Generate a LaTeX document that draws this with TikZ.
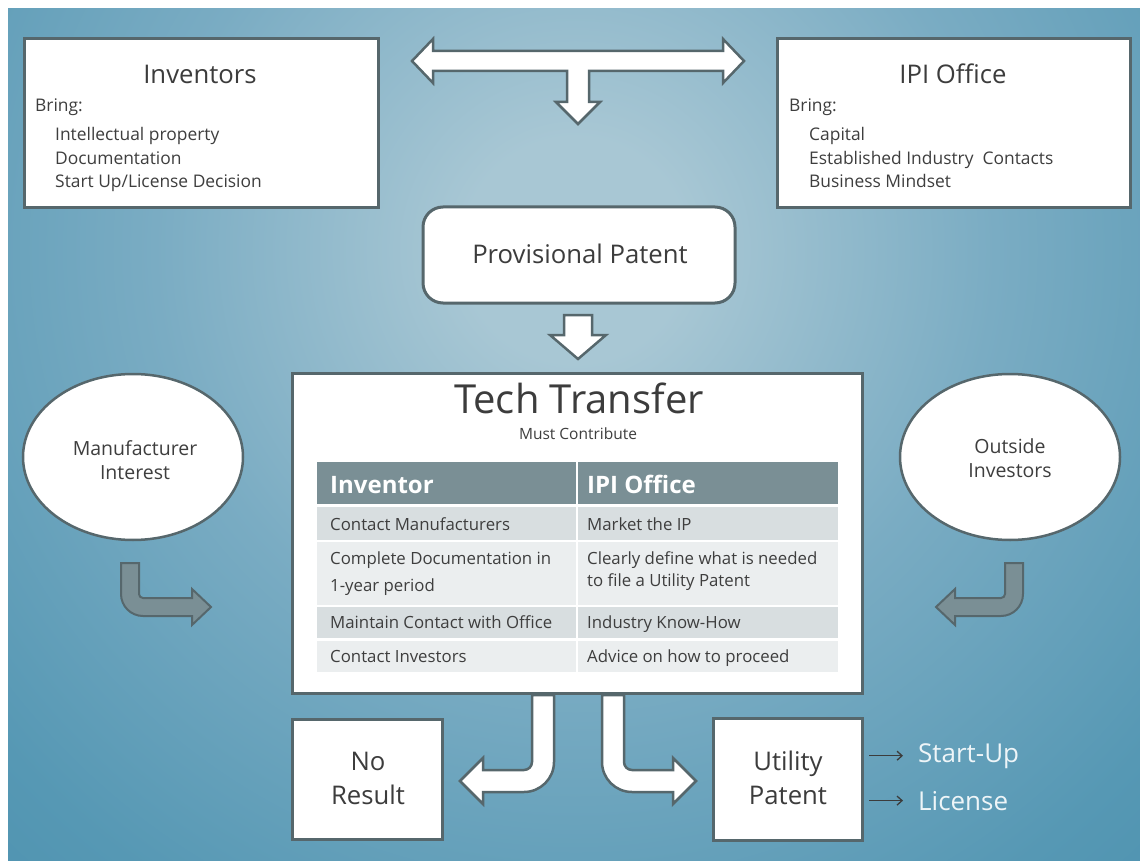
\documentclass[tikz,border=0pt]{standalone}
\usepackage{fontspec}
\setmainfont{Open Sans}
\usetikzlibrary{calc,arrows.meta}
\definecolor{bgC}{RGB}{168,199,212}
\definecolor{bgM}{RGB}{122,172,195}
\definecolor{bgE}{RGB}{86,152,180}
\definecolor{bgF}{RGB}{72,142,172}
\definecolor{edgec}{RGB}{86,103,108}
\definecolor{slate}{RGB}{122,143,149}
\definecolor{rowA}{RGB}{216,222,224}
\definecolor{rowB}{RGB}{235,238,239}
\definecolor{ttlc}{RGB}{60,60,60}
\definecolor{txtc}{RGB}{62,62,62}
\definecolor{lblc}{RGB}{238,245,248}
\pgfdeclareradialshading{bgshade}{\pgfpoint{0bp}{0bp}}{color(0bp)=(bgC); color(4bp)=(bgC); color(15bp)=(bgM); color(27bp)=(bgE); color(36bp)=(bgF); color(80bp)=(bgF)}
\newcommand\fsz[1]{\fontsize{#1}{#1}\selectfont}
\tikzset{
  box/.style={draw=edgec, line width=3pt, fill=white, rectangle, outer sep=0pt},
  blk/.style={draw=edgec, line width=2.5pt, fill=white, line join=miter},
  sarr/.style={draw=edgec, line width=2pt, fill=slate, line join=miter},
  ttl/.style={inner sep=0pt, text=ttlc, font=\fsz{25.7}},
  itm/.style={inner sep=0pt, text=txtc, font=\fsz{17.4}},
  cell/.style={inner sep=0pt, text=txtc, font=\fsz{16.8}},
  hcell/.style={inner sep=0pt, text=white, font=\bfseries\fsz{24}},
  lbl/.style={inner sep=0pt, text=lblc, font=\fsz{26}},
  tarr/.style={draw=ttlc, line width=1.3pt, -{Straight Barb[length=5pt,width=9pt]}},
}
\begin{document}
\begin{tikzpicture}[x=1pt,y=-1pt]
\useasboundingbox (0,0) rectangle (1140,861);
\fill[white] (0,0) rectangle (1140,861);
\begin{scope}
  \clip (8,9) rectangle (1140,861);
  \shade[shading=bgshade] (-125,-450) rectangle (1275,950);
\end{scope}

% top boxes
\node[box, minimum width=353.5pt, minimum height=169pt, anchor=north west] (inv) at (24.5,38.5) {};
\node[ttl, anchor=base] (invT) at (200,84) {Inventors};
\node[itm, anchor=base west] (invB) at (35,112) {Bring:};
\node[itm, anchor=base west] (inv1) at (55,141) {Intellectual property};
\node[itm, anchor=base west] (inv2) at (55,165) {Documentation};
\node[itm, anchor=base west] (inv3) at (55,188) {Start Up/License Decision};

\node[box, minimum width=352.5pt, minimum height=169pt, anchor=north west] (ipi) at (777.5,38.5) {};
\node[ttl, anchor=base] (ipiT) at (953,84) {IPI Office};
\node[itm, anchor=base west] (ipiB) at (789,112) {Bring:};
\node[itm, anchor=base west] (ipi1) at (809,141) {Capital};
\node[itm, anchor=base west] (ipi2) at (809,165) {Established Industry\ \ Contacts};
\node[itm, anchor=base west] (ipi3) at (809,188) {Business Mindset};

% T arrow
\draw[blk] (412,61) -- (433,39) -- (433,51) -- (723,51) -- (723,39) -- (744,61) -- (723,83) -- (723,71)
  -- (589,71) -- (589,102) -- (600,102) -- (578,124) -- (556,102) -- (567,102) -- (567,71)
  -- (433,71) -- (433,83) -- cycle;

% provisional patent
\node[box, rounded corners=20pt, minimum width=312pt, minimum height=96pt, anchor=north west] (prov) at (423,207) {};
\node[ttl, anchor=base] (provT) at (580,263) {Provisional Patent};
\draw[blk] (564,315) -- (592,315) -- (592,335) -- (606,335) -- (578,359) -- (550,335) -- (564,335) -- cycle;

% tech transfer
\node[box, minimum width=570pt, minimum height=320pt, anchor=north west] (tech) at (292,373) {};
\node[inner sep=0pt, text=ttlc, font=\fsz{40}, anchor=base] (techT) at (579,413) {Tech Transfer};
\node[inner sep=0pt, text=txtc, font=\fsz{15.5}, anchor=base] (techS) at (578,439) {Must Contribute};

\fill[slate] (317,462) rectangle (576,504);
\fill[slate] (578,462) rectangle (838,504);
\fill[rowA] (317,507) rectangle (576,540);
\fill[rowA] (578,507) rectangle (838,540);
\fill[rowB] (317,542) rectangle (576,605);
\fill[rowB] (578,542) rectangle (838,605);
\fill[rowA] (317,607) rectangle (576,638);
\fill[rowA] (578,607) rectangle (838,638);
\fill[rowB] (317,641) rectangle (576,672);
\fill[rowB] (578,641) rectangle (838,672);

\node[hcell, anchor=base west] (h1) at (330,493) {Inventor};
\node[hcell, anchor=base west] (h2) at (587,493) {IPI Office};
\node[cell, anchor=base west] (c11) at (330,530) {Contact Manufacturers};
\node[cell, anchor=base west] (c12) at (587,530) {Market the IP};
\node[cell, anchor=base west] (c21) at (330,564) {Complete Documentation in};
\node[cell, anchor=base west] (c21b) at (330,591) {1-year period};
\node[cell, anchor=base west] (c22) at (587,564) {Clearly define what is needed};
\node[cell, anchor=base west] (c22b) at (587,586) {to file a Utility Patent};
\node[cell, anchor=base west] (c31) at (330,628) {Maintain Contact with Office};
\node[cell, anchor=base west] (c32) at (587,628) {Industry Know-How};
\node[cell, anchor=base west] (c41) at (330,662) {Contact Investors};
\node[cell, anchor=base west] (c42) at (587,662) {Advice on how to proceed};

% ellipses
\draw[draw=edgec, line width=2.5pt, fill=white] (133,457) ellipse [x radius=110, y radius=83];
\node[inner sep=0pt, text=txtc, font=\fsz{19.5}, align=center] (man) at (135,460) {Manufacturer\\[4pt]Interest};
\draw[draw=edgec, line width=2.5pt, fill=white] (1010,457) ellipse [x radius=110, y radius=83];
\node[inner sep=0pt, text=txtc, font=\fsz{19.5}, align=center] (inv4) at (1010,458) {Outside\\[4pt]Investors};

% side arrows
\draw[sarr] (121,563) -- (139,563) -- (139,594) arc[start angle=180, end angle=90, radius=4]
  -- (192,598) -- (192,589) -- (211,607) -- (192,625) -- (192,616) -- (143,616)
  arc[start angle=90, end angle=180, radius=22] -- cycle;
\draw[sarr] (1005,563) -- (1023,563) -- (1023,594) arc[start angle=0, end angle=90, radius=22]
  -- (955,616) -- (955,625) -- (936,607) -- (955,589) -- (955,598) -- (1001,598)
  arc[start angle=90, end angle=0, radius=4] -- cycle;

% bottom bent arrows
\draw[blk] (532,695) -- (532,762) arc[start angle=0, end angle=90, radius=8]
  -- (483,770) -- (483,758) -- (460,781) -- (483,804) -- (483,792) -- (524,792)
  arc[start angle=90, end angle=0, radius=30] -- (554,695) -- cycle;
\draw[blk] (624,695) -- (624,762) arc[start angle=180, end angle=90, radius=8]
  -- (673,770) -- (673,758) -- (696,781) -- (673,804) -- (673,792) -- (632,792)
  arc[start angle=90, end angle=180, radius=30] -- (602,695) -- cycle;

% bottom boxes
\node[box, minimum width=150pt, minimum height=120pt, anchor=north west] (nores) at (292,719) {};
\node[ttl, anchor=base] (noT1) at (368,770) {No};
\node[ttl, anchor=base] (noT2) at (368,804) {Result};
\node[box, minimum width=149pt, minimum height=122pt, anchor=north west] (up) at (713,718) {};
\node[ttl, anchor=base] (upT1) at (788,770) {Utility};
\node[ttl, anchor=base] (upT2) at (788,804) {Patent};

\node[lbl, anchor=base west] (su) at (918,762) {Start-Up};
\node[lbl, anchor=base west] (li) at (918,810) {License};
\draw[tarr, shorten <=7pt, shorten >=15pt] (up.east |- su.west) -- (su.west);
\draw[tarr, shorten <=7pt, shorten >=15pt] (up.east |- li.west) -- (li.west);
\end{tikzpicture}
\end{document}
